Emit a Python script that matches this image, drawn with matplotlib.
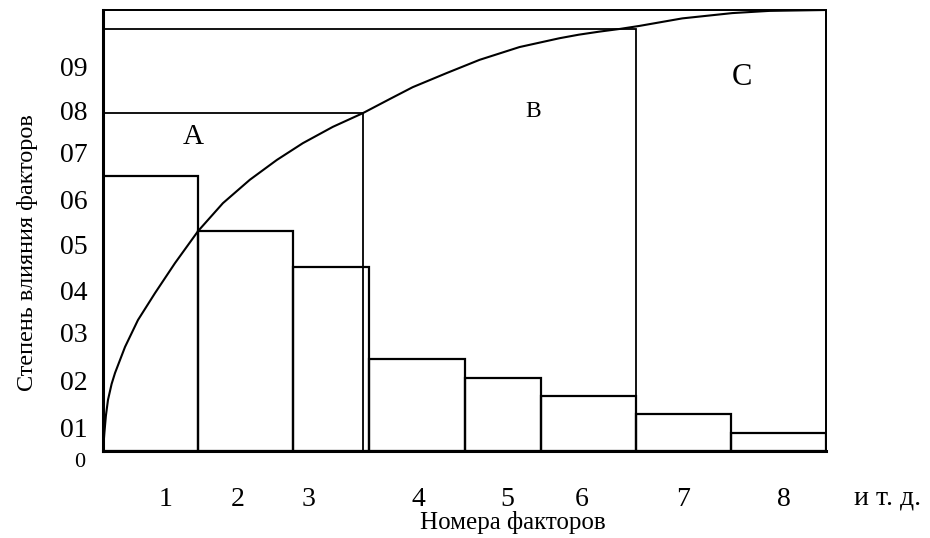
import matplotlib
matplotlib.use("Agg")
import matplotlib.pyplot as plt
from matplotlib.transforms import blended_transform_factory

plt.rcParams["font.family"] = ["Liberation Serif", "DejaVu Serif"]

# bar edges along the factor axis (one unit ~ one factor width)
bar_left = [0.0, 1.0, 2.0, 2.8, 3.8, 4.6, 5.6, 6.6]
bar_width = [1.0, 1.0, 0.8, 1.0, 0.8, 1.0, 1.0, 1.0]
bar_height = [0.624, 0.499, 0.417, 0.209, 0.166, 0.125, 0.084, 0.041]

# cumulative curve
curve_x = [0.0, 0.005, 0.014, 0.03, 0.052, 0.09, 0.126, 0.231, 0.367, 0.546, 0.756,
           1.0, 1.26, 1.543, 1.827, 2.1, 2.415, 2.73, 3.013, 3.255, 3.612, 3.958,
           4.378, 4.798, 5.0, 5.218, 5.43, 5.64, 6.089, 6.614, 7.003, 7.6]
curve_y = [0.0, 0.015, 0.041, 0.08, 0.116, 0.152, 0.177, 0.236, 0.297, 0.358, 0.426,
           0.499, 0.562, 0.615, 0.66, 0.698, 0.735, 0.766, 0.798, 0.825, 0.857, 0.887,
           0.916, 0.936, 0.944, 0.951, 0.957, 0.964, 0.981, 0.993, 0.998, 1.0]

# zones A, B, C: (right edge, top)
zone_names = ["A", "B", "C"]
zone_right = [2.73, 5.6, 7.6]
zone_top = [0.766, 0.957, 1.0]
zone_label_x = [0.946, 4.52, 6.717]
zone_label_y = [0.712, 0.769, 0.846]
zone_label_size = [21, 17, 22]

ytick_pos = [0.054, 0.159, 0.268, 0.365, 0.469, 0.571, 0.678, 0.773, 0.873]
ytick_lab = ["01", "02", "03", "04", "05", "06", "07", "08", "09"]
zero_pos = -0.025
xtick_pos = [0.652, 1.419, 2.155, 3.311, 4.247, 5.035, 6.097, 7.159]
xtick_lab = ["1", "2", "3", "4", "5", "6", "7", "8"]


def main() -> None:
    fig = plt.figure(figsize=(9.3, 5.38), dpi=100)
    ax = fig.add_axes([0.1108, 0.1617, 0.7774, 0.8197])

    ax.bar(bar_left, bar_height, width=bar_width, align="edge",
           fill=False, edgecolor="black", linewidth=1.6)

    for right, top in zip(zone_right, zone_top):
        ax.plot([0, right, right], [top, top, 0], color="black", lw=1.3,
                clip_on=False, solid_joinstyle="miter")

    ax.plot(curve_x, curve_y, color="black", lw=1.5)

    for name, x, y, s in zip(zone_names, zone_label_x, zone_label_y, zone_label_size):
        ax.text(x, y, name, fontsize=s, ha="center", va="center")

    for side in ("top", "right"):
        ax.spines[side].set_linewidth(1.3)
    for side in ("bottom", "left"):
        ax.spines[side].set_linewidth(2.2)

    ax.set_yticks(ytick_pos)
    ax.set_yticklabels(ytick_lab, fontsize=20)
    ax.set_xticks(xtick_pos)
    ax.set_xticklabels(xtick_lab, fontsize=20)
    ax.tick_params(axis="y", length=0, pad=11)
    ax.tick_params(axis="x", length=0, pad=26)
    ax.set_xlim(0, 7.6)
    ax.set_ylim(0, 1.0)

    # "0" sits just below the axis line, smaller than the other labels
    ytrans = blended_transform_factory(ax.transAxes, ax.transData)
    ax.text(-0.025, zero_pos, "0", fontsize=16, ha="right", va="center",
            transform=ytrans, clip_on=False)

    trans = blended_transform_factory(ax.transData, ax.transAxes)
    ax.text(8.25, -0.107, "и т. д.", fontsize=20, ha="center", va="center",
            transform=trans, clip_on=False)
    ax.text(4.31, -0.161, "Номера факторов", fontsize=18, ha="center",
            va="center", transform=trans, clip_on=False)
    ax.text(-0.105, 0.45, "Степень влияния факторов", fontsize=17.5, rotation=90,
            ha="center", va="center", transform=ax.transAxes, clip_on=False)

    fig.savefig("out.png", dpi=100)


if __name__ == "__main__":
    main()
